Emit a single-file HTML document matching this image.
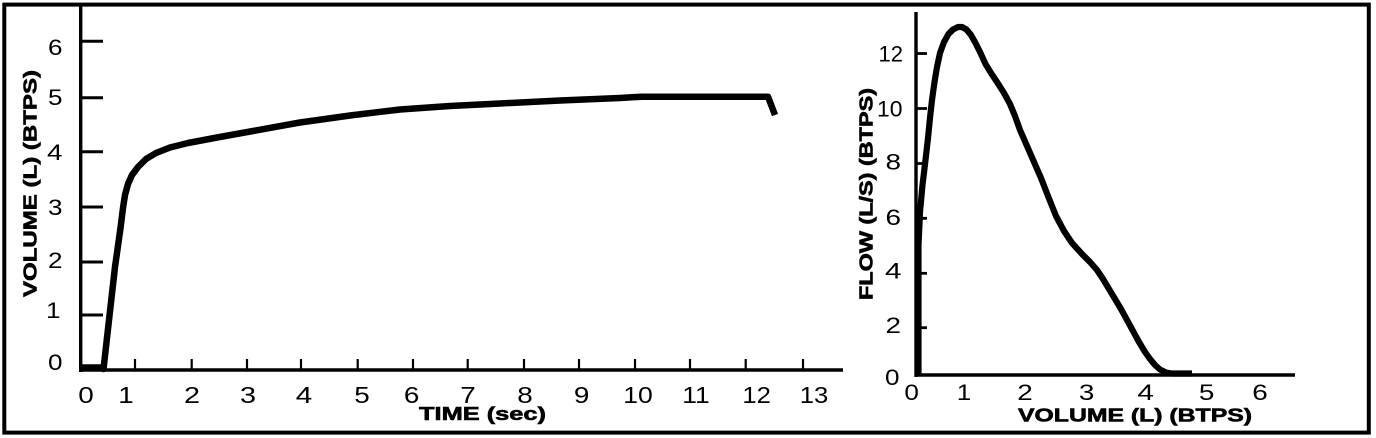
<!DOCTYPE html>
<html><head><meta charset="utf-8"><style>
html,body{margin:0;padding:0;background:#fff;}
svg{display:block;}
text{font-family:"Liberation Sans",Arial,sans-serif;fill:#000;}
.d{font-size:22.5px;}
.dx{font-size:23.5px;}
.b{font-size:18.5px;font-weight:bold;stroke:#000;stroke-width:0.6px;}
</style></head><body>
<svg width="1376" height="438" viewBox="0 0 1376 438" xmlns="http://www.w3.org/2000/svg">
<rect x="0" y="0" width="1376" height="438" fill="#fff"/>
<rect x="4.3" y="4.6" width="1364.5" height="428" fill="none" stroke="#000" stroke-width="4"/>

<!-- LEFT CHART -->
<g stroke="#000" fill="none">
<line x1="80.7" y1="4" x2="80.7" y2="372" stroke-width="3.4"/>
<line x1="79" y1="370" x2="843" y2="370" stroke-width="3.4"/>
<g stroke-width="3">
<line x1="80" y1="41.3" x2="103" y2="41.3"/>
<line x1="80" y1="97.7" x2="103" y2="97.7"/>
<line x1="80" y1="151.7" x2="103" y2="151.7"/>
<line x1="80" y1="207" x2="103" y2="207"/>
<line x1="80" y1="262" x2="103" y2="262"/>
<line x1="80" y1="315" x2="103" y2="315"/>
</g>
<g stroke-width="2.2">
<line x1="135" y1="359" x2="135" y2="370"/>
<line x1="191.7" y1="359" x2="191.7" y2="370"/>
<line x1="247" y1="359" x2="247" y2="370"/>
<line x1="301" y1="359" x2="301" y2="370"/>
<line x1="357.7" y1="359" x2="357.7" y2="370"/>
<line x1="413" y1="359" x2="413" y2="370"/>
<line x1="467.7" y1="359" x2="467.7" y2="370"/>
<line x1="524" y1="359" x2="524" y2="370"/>
<line x1="579" y1="359" x2="579" y2="370"/>
<line x1="635" y1="359" x2="635" y2="370"/>
<line x1="690" y1="359" x2="690" y2="370"/>
<line x1="745.7" y1="359" x2="745.7" y2="370"/>
<line x1="803" y1="359" x2="803" y2="370"/>
</g>
<polyline stroke-width="6.5" stroke-linejoin="round" stroke-linecap="butt"
points="80,367.5 101,367.5 103.5,369 109,320 115,267 120.5,228 123,208 125,195 128,184 132,175 138,167 146,159 156,153 170,147.5 188,143 217,137.5 253,131 300,122.5 350,115.5 400,109.5 450,106 500,103.5 560,100.5 620,98 642,96.7 768,96.7 775,115"/>
</g>
<g class="d">
<text x="48" y="55" textLength="14.5" lengthAdjust="spacingAndGlyphs">6</text>
<text x="48" y="105" textLength="14.5" lengthAdjust="spacingAndGlyphs">5</text>
<text x="47" y="160" textLength="15.5" lengthAdjust="spacingAndGlyphs">4</text>
<text x="48" y="215" textLength="14.5" lengthAdjust="spacingAndGlyphs">3</text>
<text x="48" y="268" textLength="14.5" lengthAdjust="spacingAndGlyphs">2</text>
<text x="46" y="318" textLength="14.5" lengthAdjust="spacingAndGlyphs">1</text>
<text x="48" y="370" textLength="14.5" lengthAdjust="spacingAndGlyphs">0</text>
</g>
<g class="dx" text-anchor="middle">
<text x="86" y="403" textLength="15.5" lengthAdjust="spacingAndGlyphs">0</text>
<text x="126" y="403" textLength="15.5" lengthAdjust="spacingAndGlyphs">1</text>
<text x="192" y="403" textLength="16" lengthAdjust="spacingAndGlyphs">2</text>
<text x="248" y="403" textLength="16" lengthAdjust="spacingAndGlyphs">3</text>
<text x="304" y="403" textLength="16.5" lengthAdjust="spacingAndGlyphs">4</text>
<text x="362" y="403" textLength="15.5" lengthAdjust="spacingAndGlyphs">5</text>
<text x="411.7" y="403" textLength="15.5" lengthAdjust="spacingAndGlyphs">6</text>
<text x="468" y="403" textLength="15.5" lengthAdjust="spacingAndGlyphs">7</text>
<text x="525" y="403" textLength="15.5" lengthAdjust="spacingAndGlyphs">8</text>
<text x="581.7" y="403" textLength="15.5" lengthAdjust="spacingAndGlyphs">9</text>
<text x="638" y="403" textLength="29.5" lengthAdjust="spacingAndGlyphs">10</text>
<text x="696" y="403" textLength="27.5" lengthAdjust="spacingAndGlyphs">11</text>
<text x="756.7" y="403" textLength="28.5" lengthAdjust="spacingAndGlyphs">12</text>
<text x="814" y="403" textLength="28.5" lengthAdjust="spacingAndGlyphs">13</text>
</g>
<text class="b" x="419" y="420" textLength="127" lengthAdjust="spacingAndGlyphs">TIME (sec)</text>
<text class="b" transform="translate(36.7,297) rotate(-90)" x="0" y="0" textLength="227" lengthAdjust="spacingAndGlyphs">VOLUME (L) (BTPS)</text>

<!-- RIGHT CHART -->
<g stroke="#000" fill="none">
<line x1="916" y1="12" x2="916" y2="377" stroke-width="3.4"/>
<line x1="914.5" y1="375" x2="1295" y2="375" stroke-width="3.4"/>
<g stroke-width="2.8">
<line x1="916" y1="53.5" x2="927" y2="53.5"/>
<line x1="916" y1="108.5" x2="927" y2="108.5"/>
<line x1="916" y1="163.5" x2="927" y2="163.5"/>
<line x1="916" y1="218.3" x2="927" y2="218.3"/>
<line x1="916" y1="273.3" x2="927" y2="273.3"/>
<line x1="916" y1="327.7" x2="927" y2="327.7"/>
</g>
<polyline stroke-width="6.2" stroke-linejoin="round" stroke-linecap="butt"
points="918.5,376 918.5,245 920,212 922.5,185 925.5,160 928,138 930,118 932,100 934.5,82 937,67 940,53 944,42 948.5,34 953,29.5 958,27 962,27 966.5,29.5 971,35 975.5,43 980.5,53 985.5,64 991,73 997,82 1004,93 1010,104 1015,116 1020,130 1027,146 1034,162 1041,178 1048,196 1056,216 1064,231 1072,243 1082,254 1090,262 1097,270 1103,279 1109,289 1115,299 1121,309 1127,320 1133,331 1139,342 1145,352 1150,359 1155,365 1160,369.5 1166,372.5 1172,373.5 1192,373.5"/>
</g>
<g class="d">
<text x="878.5" y="61.7" textLength="24.5" lengthAdjust="spacingAndGlyphs">12</text>
<text x="877" y="116.7" textLength="25.5" lengthAdjust="spacingAndGlyphs">10</text>
<text x="885.5" y="169.3" textLength="15.5" lengthAdjust="spacingAndGlyphs">8</text>
<text x="885.5" y="225" textLength="15.5" lengthAdjust="spacingAndGlyphs">6</text>
<text x="885" y="278.3" textLength="16.5" lengthAdjust="spacingAndGlyphs">4</text>
<text x="885.5" y="333" textLength="15.5" lengthAdjust="spacingAndGlyphs">2</text>
<text x="885" y="385" textLength="14.5" lengthAdjust="spacingAndGlyphs">0</text>
</g>
<g class="d" text-anchor="middle">
<text x="911.7" y="400" textLength="14.5" lengthAdjust="spacingAndGlyphs">0</text>
<text x="964" y="400" textLength="14.5" lengthAdjust="spacingAndGlyphs">1</text>
<text x="1025" y="400" textLength="15.5" lengthAdjust="spacingAndGlyphs">2</text>
<text x="1086.7" y="400" textLength="15.5" lengthAdjust="spacingAndGlyphs">3</text>
<text x="1145.7" y="400" textLength="16.5" lengthAdjust="spacingAndGlyphs">4</text>
<text x="1206.7" y="400" textLength="15.5" lengthAdjust="spacingAndGlyphs">5</text>
<text x="1260" y="400" textLength="15.5" lengthAdjust="spacingAndGlyphs">6</text>
</g>
<text class="b" x="1018" y="421.5" textLength="234" lengthAdjust="spacingAndGlyphs">VOLUME (L) (BTPS)</text>
<text class="b" transform="translate(872.5,300) rotate(-90)" x="0" y="0" textLength="212" lengthAdjust="spacingAndGlyphs">FLOW (L/S) (BTPS)</text>
</svg>
</body></html>
